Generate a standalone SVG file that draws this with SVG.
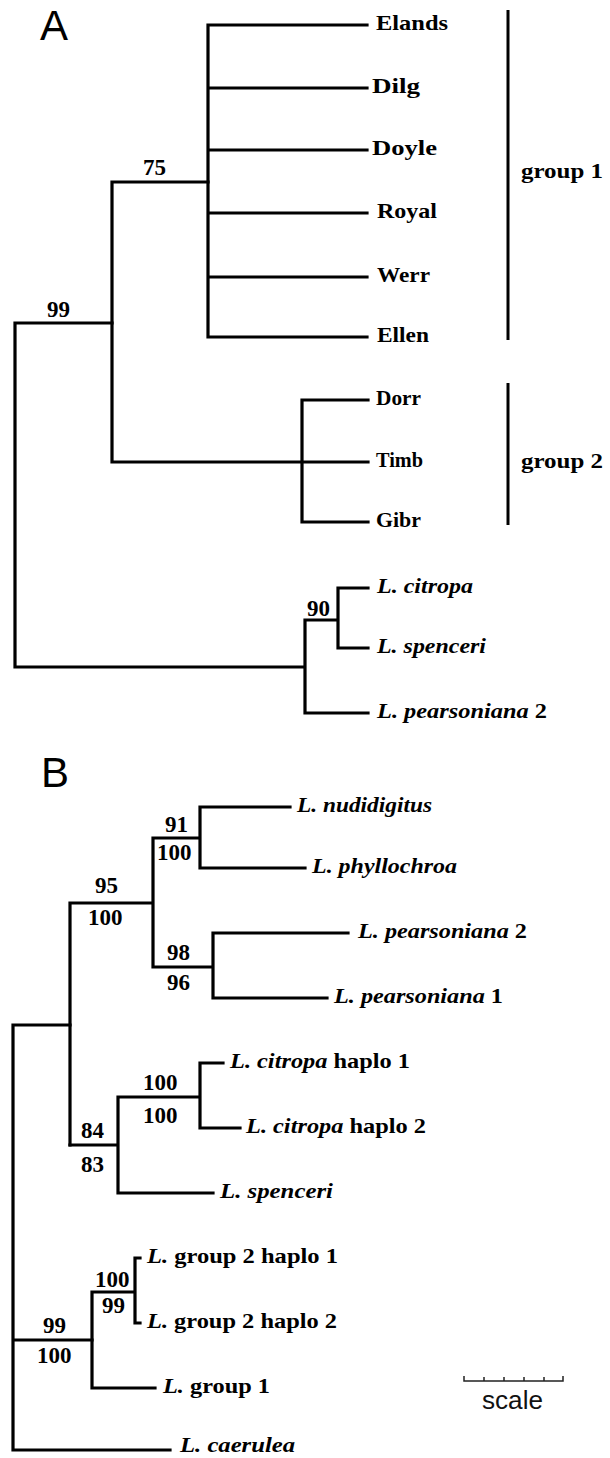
<svg xmlns="http://www.w3.org/2000/svg" width="610" height="1458" viewBox="0 0 610 1458">
<style>
.br{fill:none;stroke:#000;stroke-width:3.2;stroke-linecap:square;stroke-linejoin:miter}
.lb{font-family:"Liberation Serif","Times New Roman",serif;font-weight:bold;font-size:21.5px;fill:#000}
.it{font-style:italic}
.num{font-family:"Liberation Serif","Times New Roman",serif;font-weight:bold;font-size:23px;fill:#000}
.pn{font-family:"Liberation Sans",Arial,sans-serif;font-size:42px;fill:#000}
.sc{font-family:"Liberation Sans",Arial,sans-serif;font-size:25px;fill:#111}
.bar{stroke:#000;stroke-width:3}
</style>
<rect width="610" height="1458" fill="#fff"/>
<text class="pn" x="40" y="40">A</text>
<text class="pn" x="41" y="787">B</text>
<g id="connectors">
<path class="br" d="M208,25V337M208,25H367M208,88H367M208,150H367M208,213H367M208,277H367M208,337H367"/>
<path class="br" d="M112,462V182H208M302,400V522M302,400H368M302,522H368M112,462H368"/>
<path class="br" d="M15,667V323H112M15,667H305M305,620V713H368M305,620H338M338,588V648M338,588H368M338,648H368"/>
<path class="br" d="M13,1450V1025H70M13,1340H92M13,1450H170"/>
<path class="br" d="M70,903V1145M70,903H153M153,838V967M153,838H200M200,807V868M200,807H290M200,868H305M153,967H213M213,933V998M213,933H348M213,998H327"/>
<path class="br" d="M70,1145H118M118,1097V1193M118,1097H200M200,1063V1128M200,1063H223M200,1128H240M118,1193H213"/>
<path class="br" d="M92,1292V1388M92,1292H135M135,1258V1323M135,1258H140M135,1323H140M92,1388H155"/>
</g>
<g id="supports">
<text class="num" x="143" y="175">75</text>
<text class="num" x="47" y="317">99</text>
<text class="num" x="307" y="616" font-size="22">90</text>
<text class="num" x="165" y="832">91</text>
<text class="num" x="157" y="860">100</text>
<text class="num" x="95" y="893">95</text>
<text class="num" x="88" y="925">100</text>
<text class="num" x="167" y="960">98</text>
<text class="num" x="167" y="990">96</text>
<text class="num" x="143" y="1090">100</text>
<text class="num" x="143" y="1123">100</text>
<text class="num" x="81" y="1138">84</text>
<text class="num" x="81" y="1172">83</text>
<text class="num" x="95" y="1287">100</text>
<text class="num" x="102" y="1313">99</text>
<text class="num" x="43" y="1333">99</text>
<text class="num" x="37" y="1363">100</text>
</g>
<g id="taxa-A">
<g id="Elands"><text class="lb" x="376" y="30" textLength="72" lengthAdjust="spacingAndGlyphs">Elands</text></g>
<g id="Dilg"><text class="lb" x="372" y="93" textLength="48" lengthAdjust="spacingAndGlyphs">Dilg</text></g>
<g id="Doyle"><text class="lb" x="372" y="155" textLength="65" lengthAdjust="spacingAndGlyphs">Doyle</text></g>
<g id="Royal"><text class="lb" x="377" y="218" textLength="60" lengthAdjust="spacingAndGlyphs">Royal</text></g>
<g id="Werr"><text class="lb" x="377" y="282" textLength="53" lengthAdjust="spacingAndGlyphs">Werr</text></g>
<g id="Ellen"><text class="lb" x="377" y="342" textLength="52" lengthAdjust="spacingAndGlyphs">Ellen</text></g>
<g id="Dorr"><text class="lb" x="376" y="405" textLength="45" lengthAdjust="spacingAndGlyphs">Dorr</text></g>
<g id="Timb"><text class="lb" x="376" y="467" textLength="47" lengthAdjust="spacingAndGlyphs">Timb</text></g>
<g id="Gibr"><text class="lb" x="376" y="527" textLength="45" lengthAdjust="spacingAndGlyphs">Gibr</text></g>
<g id="A-citropa"><text class="lb it" x="377" y="593" textLength="96" lengthAdjust="spacingAndGlyphs">L. citropa</text></g>
<g id="A-spenceri"><text class="lb it" x="377" y="653" textLength="109" lengthAdjust="spacingAndGlyphs">L. spenceri</text></g>
<g id="A-pearsoniana2"><text class="lb" x="377" y="718" textLength="170" lengthAdjust="spacingAndGlyphs"><tspan class="it">L. pearsoniana</tspan> 2</text></g>
<g id="group1"><line class="bar" x1="508" y1="10" x2="508" y2="340"/><text class="lb" x="521" y="178" textLength="82" lengthAdjust="spacingAndGlyphs">group 1</text></g>
<g id="group2"><line class="bar" x1="508" y1="383" x2="508" y2="525"/><text class="lb" x="521" y="468" textLength="82" lengthAdjust="spacingAndGlyphs">group 2</text></g>
</g>
<g id="taxa-B">
<g id="nudidigitus"><text class="lb it" x="297" y="812" textLength="135" lengthAdjust="spacingAndGlyphs">L. nudidigitus</text></g>
<g id="phyllochroa"><text class="lb it" x="312" y="873" textLength="145" lengthAdjust="spacingAndGlyphs">L. phyllochroa</text></g>
<g id="pearsoniana2"><text class="lb" x="358" y="938" textLength="169" lengthAdjust="spacingAndGlyphs"><tspan class="it">L. pearsoniana</tspan> 2</text></g>
<g id="pearsoniana1"><text class="lb" x="334" y="1003" textLength="169" lengthAdjust="spacingAndGlyphs"><tspan class="it">L. pearsoniana</tspan> 1</text></g>
<g id="citropa1"><text class="lb" x="230" y="1068" textLength="180" lengthAdjust="spacingAndGlyphs"><tspan class="it">L. citropa</tspan> haplo 1</text></g>
<g id="citropa2"><text class="lb" x="246" y="1133" textLength="180" lengthAdjust="spacingAndGlyphs"><tspan class="it">L. citropa</tspan> haplo 2</text></g>
<g id="B-spenceri"><text class="lb it" x="220" y="1198" textLength="113" lengthAdjust="spacingAndGlyphs">L. spenceri</text></g>
<g id="g2h1"><text class="lb" x="147" y="1263" textLength="191" lengthAdjust="spacingAndGlyphs"><tspan class="it">L.</tspan> group 2 haplo 1</text></g>
<g id="g2h2"><text class="lb" x="147" y="1328" textLength="190" lengthAdjust="spacingAndGlyphs"><tspan class="it">L.</tspan> group 2 haplo 2</text></g>
<g id="g1"><text class="lb" x="163" y="1393" textLength="107" lengthAdjust="spacingAndGlyphs"><tspan class="it">L.</tspan> group 1</text></g>
<g id="caerulea"><text class="lb it" x="180" y="1452" font-size="20.5" textLength="115" lengthAdjust="spacingAndGlyphs">L. caerulea</text></g>
</g>
<g id="scale">
<path d="M464,1376V1381H563V1376M484,1381V1377M504,1381V1377M524,1381V1377M544,1381V1377" fill="none" stroke="#222" stroke-width="1.5"/>
<text class="sc" x="482" y="1409" textLength="61" lengthAdjust="spacingAndGlyphs">scale</text>
</g>
</svg>
